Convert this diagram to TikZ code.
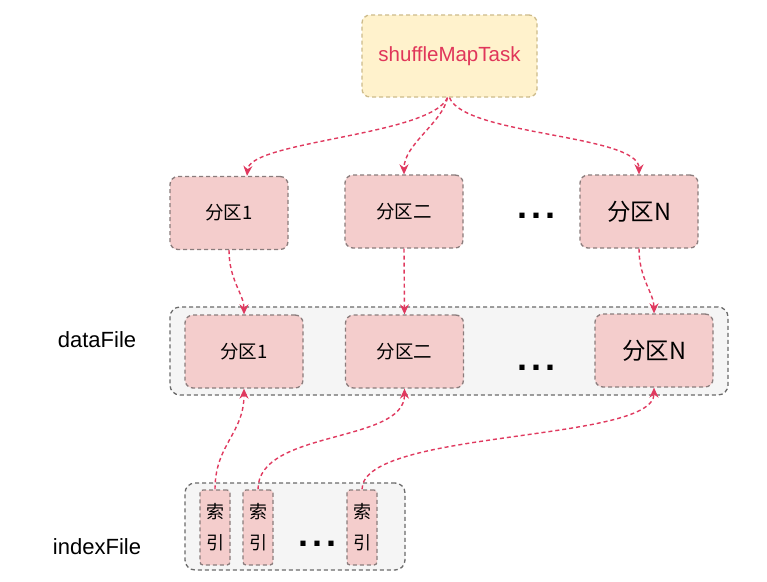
\documentclass[tikz,border=0pt]{standalone}
\usepackage{fontspec}
\setmainfont{Liberation Sans}
\newfontfamily\cjk{Noto Sans CJK SC}
\usetikzlibrary{arrows.meta}
\definecolor{taskfill}{HTML}{FFF2CC}
\definecolor{taskline}{HTML}{CDBB8A}
\definecolor{tasktext}{HTML}{E0365A}
\definecolor{partfill}{HTML}{F4CDCC}
\definecolor{partline}{HTML}{8A7C7C}
\definecolor{filefill}{HTML}{F5F5F5}
\definecolor{fileline}{HTML}{6A6A6A}
\definecolor{linkred}{HTML}{E0395F}
\tikzset{
  box/.style={rounded corners=8pt, line width=1.3pt, dash pattern=on 4pt off 3pt, inner sep=0pt},
  task/.style={box, draw=taskline, fill=taskfill, text=tasktext, minimum width=175pt, minimum height=82pt, font=\fontsize{20.5}{24}\selectfont},
  part/.style={box, draw=partline, fill=partfill, minimum width=118pt, minimum height=73pt, font=\cjk\fontsize{18.5}{22}\selectfont},
  partbig/.style={part, font=\cjk\fontsize{23.5}{26}\selectfont},
  filebox/.style={box, rounded corners=10pt, draw=fileline, fill=filefill},
  idx/.style={box, rounded corners=3pt, draw=partline, fill=partfill, minimum width=30pt, minimum height=75pt, align=center, font=\cjk\fontsize{18}{31}\selectfont},
  link/.style={draw=linkred, line width=1.4pt, dash pattern=on 4pt off 3pt, -{Stealth[length=10pt,width=9pt]}},
  lab/.style={font=\fontsize{22}{26}\selectfont},
  gap/.style={font=\bfseries\fontsize{36}{36}\selectfont, anchor=base, inner sep=0pt}
}

\begin{document}
\begin{tikzpicture}[x=1pt, y=-1pt]
  \fill[white] (0,0) rectangle (767,581);
  \useasboundingbox (0,0) rectangle (767,581);

  % task and its partitions
  \node[task] (task) at (449.5,56) {shuffleMapTask};
  \node[part] (p1) at (229,213) {分区1};
  \node[part] (p2) at (404,211.5) {分区二};
  \node[partbig] (pN) at (639,211.5) {分区N};
  \node[gap] (pgap) at (536,218) {.\kern4pt.\kern4pt.};

  % dataFile
  \node[lab] (datalab) at (97,340) {dataFile};
  \node[filebox, minimum width=558pt, minimum height=88pt] (data) at (449,351) {};
  \node[part] (d1) at (244,351.5) {分区1};
  \node[part] (d2) at (404.5,351.5) {分区二};
  \node[partbig] (dN) at (654,350.5) {分区N};
  \node[gap] (dgap) at (536,370) {.\kern4pt.\kern4pt.};

  % indexFile
  \node[lab] (indexlab) at (97,547) {indexFile};
  \node[filebox, minimum width=220pt, minimum height=87pt] (index) at (295,526.5) {};
  \node[idx] (i1) at (215,527.5) {索\\引};
  \node[idx] (i2) at (258,527.5) {索\\引};
  \node[idx] (i3) at (362,527.5) {索\\引};
  \node[gap] (igap) at (317,546) {.\kern4pt.\kern4pt.};

  % connectors
  \draw[link] ([xshift=-2pt]task.south) .. controls +(-17,38) and +(3,-35) .. ([xshift=18pt]p1.north);
  \draw[link] ([xshift=-2pt]task.south) .. controls +(-5,25) and +(0,-30) .. (p2.north);
  \draw[link] (task.south) .. controls +(15,38) and +(0,-40) .. (pN.north);
  \draw[link] (p1.south) .. controls +(0,30) and +(0,-20) .. (d1.north);
  \draw[link] (p2.south) -- (d2.north);
  \draw[link] (pN.south) .. controls +(0,30) and +(0,-20) .. (dN.north);
  \draw[link] (i1.north) .. controls +(0,-45) and +(0,45) .. (d1.south);
  \draw[link] (i2.north) .. controls +(0,-60) and +(0,55) .. (d2.south);
  \draw[link] (i3.north) .. controls +(0,-60) and +(0,55) .. (dN.south);
\end{tikzpicture}
\end{document}
